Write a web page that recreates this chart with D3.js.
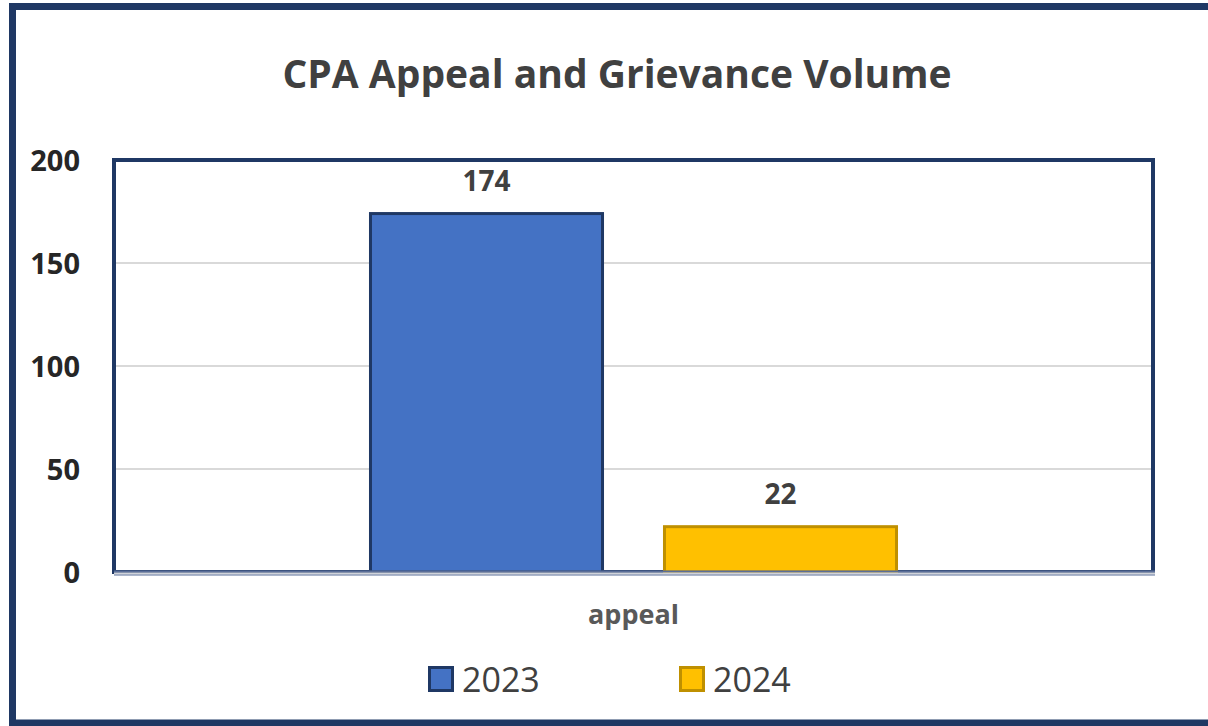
<!DOCTYPE html>
<html>
<head>
<meta charset="utf-8">
<script src="https://cdn.jsdelivr.net/npm/d3@7"></script>
<style>
  html, body { margin: 0; padding: 0; background: #fff; }
  svg { display: block; }
  text { font-family: "Open Sans", "Noto Sans", sans-serif; }
</style>
</head>
<body>
<svg id="chart" width="1208" height="726"></svg>
<script>
// Chart data
const categories = ["appeal"];
const seriesNames = ["2023", "2024"];
const values2023 = [174];
const values2024 = [22];
const yTicks = [0, 50, 100, 150, 200];
const chartTitle = "CPA Appeal and Grievance Volume";

const colors = { "2023": "#4472C4", "2024": "#FFC000" };
const strokes = { "2023": "#1F3864", "2024": "#BF9000" };

const svg = d3.select("#chart");

// outer frame (extends past the right edge)
svg.append("rect")
  .attr("x", 12.5).attr("y", 6.5)
  .attr("width", 1220).attr("height", 716.5)
  .attr("fill", "#fff")
  .attr("stroke", "#1F3864").attr("stroke-width", 7);

// plot area
const plot = { left: 114, right: 1153, top: 160, bottom: 572 };

const x0 = d3.scaleBand().domain(categories)
  .range([plot.left, plot.right]).paddingInner(0).paddingOuter(0);
const x1 = d3.scaleBand().domain(seriesNames)
  .range([0, x0.bandwidth()]).paddingInner(0.204).paddingOuter(0.869);
const y = d3.scaleLinear().domain([0, 200]).range([plot.bottom, plot.top]);

// gridlines
svg.append("g")
  .selectAll("line")
  .data(yTicks.filter(d => d > 0 && d < 200))
  .join("line")
  .attr("x1", plot.left).attr("x2", plot.right)
  .attr("y1", d => y(d)).attr("y2", d => y(d))
  .attr("stroke", "#D9D9D9").attr("stroke-width", 2);

// plot frame
svg.append("rect")
  .attr("x", plot.left).attr("y", plot.top)
  .attr("width", plot.right - plot.left).attr("height", plot.bottom - plot.top)
  .attr("fill", "none")
  .attr("stroke", "#1F3864").attr("stroke-width", 4);

// y axis labels
const yAxis = d3.axisLeft(y).tickValues(yTicks).tickSize(0).tickPadding(0);
const gy = svg.append("g")
  .attr("transform", `translate(${80},0)`)
  .call(yAxis);
gy.select(".domain").remove();
gy.selectAll("text")
  .attr("font-family", "'Open Sans', sans-serif")
  .attr("font-size", 29).attr("font-weight", 700)
  .attr("fill", "#262626")
  .attr("dy", "0.36em");

// bars
const rows = categories.map((c, i) => ({
  category: c,
  items: [
    { name: "2023", value: values2023[i] },
    { name: "2024", value: values2024[i] }
  ]
}));

const groups = svg.append("g").selectAll("g")
  .data(rows).join("g")
  .attr("transform", d => `translate(${x0(d.category)},0)`);

groups.selectAll("rect")
  .data(d => d.items).join("rect")
  .attr("x", d => x1(d.name) + 1)
  .attr("width", x1.bandwidth() - 2)
  .attr("y", d => y(d.value))
  .attr("height", d => y(0) - y(d.value))
  .attr("fill", d => colors[d.name])
  .attr("stroke", d => strokes[d.name]).attr("stroke-width", 3);

// value labels
groups.selectAll("text.val")
  .data(d => d.items).join("text")
  .attr("class", "val")
  .attr("x", d => x1(d.name) + x1.bandwidth() / 2)
  .attr("y", d => y(d.value) - 23)
  .attr("text-anchor", "middle")
  .attr("font-size", 28).attr("font-weight", 700)
  .attr("fill", "#404040")
  .text(d => d.value);

// axis baseline (two-tone)
svg.append("line")
  .attr("x1", plot.left).attr("x2", plot.right + 2)
  .attr("y1", plot.bottom - 0.5).attr("y2", plot.bottom - 0.5)
  .attr("stroke", "#5B6E99").attr("stroke-width", 2);
svg.append("line")
  .attr("x1", plot.left).attr("x2", plot.right + 2)
  .attr("y1", plot.bottom + 1.5).attr("y2", plot.bottom + 1.5)
  .attr("stroke", "#D0D3DA").attr("stroke-width", 2);
svg.append("line")
  .attr("x1", plot.left).attr("x2", plot.right + 2)
  .attr("y1", plot.bottom + 3).attr("y2", plot.bottom + 3)
  .attr("stroke", "#5B6E99").attr("stroke-width", 1);

// category labels
svg.append("g").selectAll("text")
  .data(categories).join("text")
  .attr("x", d => x0(d) + x0.bandwidth() / 2)
  .attr("y", 624)
  .attr("text-anchor", "middle")
  .attr("font-size", 27).attr("font-weight", 700)
  .attr("fill", "#595959")
  .text(d => d);

// title
svg.append("text")
  .attr("x", 617).attr("y", 88)
  .attr("text-anchor", "middle")
  .attr("font-size", 39).attr("font-weight", 700)
  .attr("fill", "#404040")
  .text(chartTitle);

// legend
const legendX = [428, 679];
const legend = svg.append("g").selectAll("g")
  .data(seriesNames).join("g")
  .attr("transform", (d, i) => `translate(${legendX[i]},666)`);
legend.append("rect")
  .attr("x", 1.5).attr("y", 1.5)
  .attr("width", 23).attr("height", 23)
  .attr("fill", d => colors[d])
  .attr("stroke", d => strokes[d]).attr("stroke-width", 3);
legend.append("text")
  .attr("x", 34).attr("y", 26)
  .attr("font-size", 34)
  .attr("fill", "#404040")
  .text(d => d);
</script>
</body>
</html>
